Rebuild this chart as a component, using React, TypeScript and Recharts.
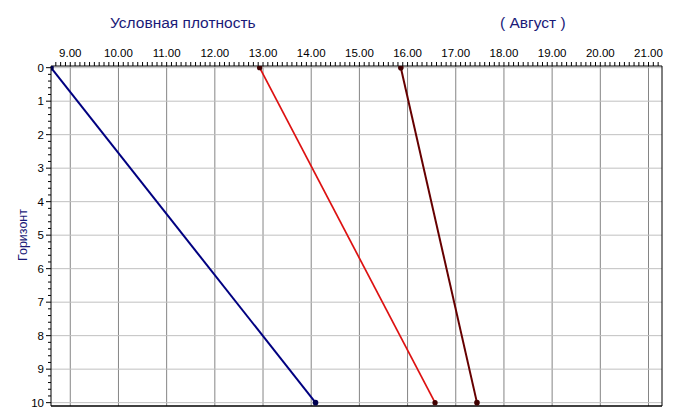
import React from 'react';
import { LineChart, Line, XAxis, YAxis, ReferenceLine } from 'recharts';

const depths = [0, 10];
const blueValues = [8.6, 14.09];
const redValues = [12.93, 16.57];
const darkRedValues = [15.86, 17.44];
const xMajorTicks = [9, 10, 11, 12, 13, 14, 15, 16, 17, 18, 19, 20, 21];
const yMajorTicks = [0, 1, 2, 3, 4, 5, 6, 7, 8, 9, 10];
const xDomain: [number, number] = [8.6, 21.28];
const yDomain: [number, number] = [-0.05, 10.1];

const xMinorTicks: number[] = [];
for (let i = 87; i <= 212; i++) xMinorTicks.push(i / 10);
const yMinorTicks: number[] = [];
for (let i = 0; i <= 50; i++) yMinorTicks.push(Math.round(i * 2) / 10);

const toSeries = (vals: number[]) => depths.map((d, i) => ({ x: vals[i], y: d }));
const blueData = toSeries(blueValues);
const redData = toSeries(redValues);
const darkRedData = toSeries(darkRedValues);

const FONT = '"Liberation Sans", Arial, sans-serif';

const isInt = (v: number) => Math.abs(v - Math.round(v)) < 1e-6;

const XTick = (props: any) => {
  const { x, y, payload } = props;
  const v = payload.value;
  const major = isInt(v);
  return (
    <g>
      <line x1={x} y1={y} x2={x} y2={y - 4} stroke="#000" strokeWidth={1} />
      {major && (
        <text x={x} y={y - 9} textAnchor="middle" fontSize={11.5} fontFamily={FONT} fill="#000">
          {v.toFixed(2)}
        </text>
      )}
    </g>
  );
};

const YTick = (props: any) => {
  const { x, y, payload } = props;
  const v = payload.value;
  const major = isInt(v);
  return (
    <g>
      <line x1={x} y1={y} x2={x - (major ? 5 : 3)} y2={y} stroke="#000" strokeWidth={1} />
      {major && (
        <text x={x - 7} y={y + 4} textAnchor="end" fontSize={11.5} fontFamily={FONT} fill="#000">
          {String(Math.round(v))}
        </text>
      )}
    </g>
  );
};

export default function App() {
  return (
    <div style={{ position: 'absolute', left: 0, top: 0, width: 675, height: 419, background: '#fff' }}>
      <LineChart
        width={675}
        height={419}
        margin={{ top: 36, right: 13, bottom: 13, left: 21 }}
      >
        <XAxis
          type="number"
          dataKey="x"
          orientation="top"
          domain={xDomain}
          ticks={xMinorTicks}
          interval={0}
          allowDataOverflow
          height={30}
          tickLine={false}
          tickSize={0}
          tickMargin={0}
          axisLine={{ stroke: '#000' }}
          tick={<XTick />}
        />
        <YAxis
          type="number"
          dataKey="y"
          reversed
          domain={yDomain}
          ticks={yMinorTicks}
          interval={0}
          allowDataOverflow
          width={30}
          tickLine={false}
          tickSize={0}
          tickMargin={0}
          axisLine={{ stroke: '#000' }}
          tick={<YTick />}
        />
        {xMajorTicks.map((t) => (
          <ReferenceLine key={'vx' + t} x={t} stroke="#858585" strokeWidth={1} />
        ))}
        {yMajorTicks.map((t) => (
          <ReferenceLine key={'hy' + t} y={t} stroke="#c0c0c0" strokeWidth={1} />
        ))}
        <ReferenceLine x={xDomain[1]} stroke="#000" strokeWidth={1} />
        <ReferenceLine y={yDomain[1]} stroke="#000" strokeWidth={1.5} />
        <Line
          data={blueData}
          dataKey="y"
          stroke="#000080"
          strokeWidth={2}
          dot={{ r: 1.8, fill: '#000050', stroke: '#000050' }}
          isAnimationActive={false}
        />
        <Line
          data={redData}
          dataKey="y"
          stroke="#dd1111"
          strokeWidth={1.7}
          dot={{ r: 1.8, fill: '#400000', stroke: '#400000' }}
          isAnimationActive={false}
        />
        <Line
          data={darkRedData}
          dataKey="y"
          stroke="#660000"
          strokeWidth={2}
          dot={{ r: 1.8, fill: '#400000', stroke: '#400000' }}
          isAnimationActive={false}
        />
      </LineChart>
      <svg
        width={675}
        height={419}
        style={{ position: 'absolute', left: 0, top: 0, pointerEvents: 'none' }}
      >
        <text x={110} y={28} fontSize={15.5} fontFamily={FONT} fill="#1a1a78">
          Условная плотность
        </text>
        <text x={500} y={28} fontSize={15.5} fontFamily={FONT} fill="#1a1a78">
          ( Август )
        </text>
        <text
          x={27}
          y={235}
          fontSize={12.5}
          fontFamily={FONT}
          fill="#1a1a78"
          textAnchor="middle"
          transform="rotate(-90 27 235)"
        >
          Горизонт
        </text>
      </svg>
    </div>
  );
}
